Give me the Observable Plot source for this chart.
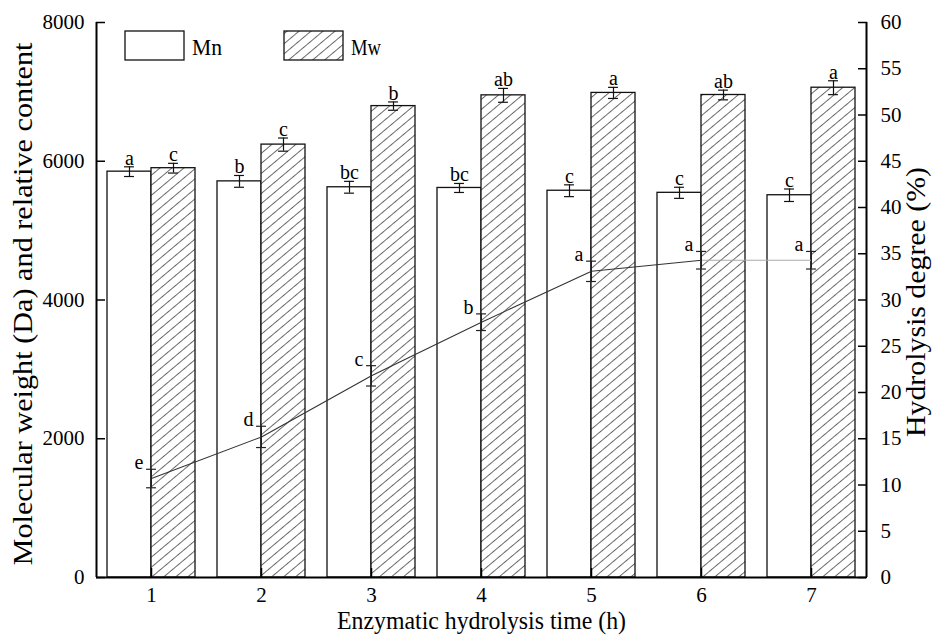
<!DOCTYPE html>
<html><head><meta charset="utf-8">
<script src="https://cdn.jsdelivr.net/npm/d3@7"></script>
<script src="https://cdn.jsdelivr.net/npm/@observablehq/plot@0.6"></script>
<style>
body{margin:0;background:#fff;}
#chart{position:relative;width:933px;height:641px;}
#chart svg{font-size:21px !important;}
#chart svg text{font-family:'Liberation Serif','Times New Roman',serif !important;}
</style></head>
<body><div id="chart"></div>
<script>
const times = [1, 2, 3, 4, 5, 6, 7];
const mn = [5850, 5710, 5625, 5615, 5575, 5545, 5510];
const mnErr = [70, 85, 85, 65, 85, 80, 90];
const mw = [5900, 6240, 6795, 6950, 6985, 6955, 7060];
const mwErr = [70, 95, 60, 100, 80, 70, 100];
const hd = [10.7, 15.2, 21.8, 27.6, 33.1, 34.3, 34.3];
const hdErr = [1.0, 1.15, 1.1, 0.9, 1.1, 0.95, 0.95];
const mnLetters = ["a", "b", "bc", "bc", "c", "c", "c"];
const mwLetters = ["c", "c", "b", "ab", "a", "ab", "a"];
const hdLetters = ["e", "d", "c", "b", "a", "a", "a"];
const leftTicks = [0, 2000, 4000, 6000, 8000];
const rightTicks = [0, 5, 10, 15, 20, 25, 30, 35, 40, 45, 50, 55, 60];
const seriesNames = ["Mn", "Mw"];
const xTitle = "Enzymatic hydrolysis time (h)";
const yTitle = "Molecular weight (Da) and relative content";
const y2Title = "Hydrolysis degree (%)";

const yMax = 8000, hdMax = 60;
const toY = v => v * yMax / hdMax;
const W = 0.4; // bar width in x units

const rows = times.map((t, i) => ({
  t, mn: mn[i], mnErr: mnErr[i], mw: mw[i], mwErr: mwErr[i],
  hd: hd[i], hdErr: hdErr[i], mnL: mnLetters[i], mwL: mwLetters[i], hdL: hdLetters[i]
}));
const capW = 0.045;
const font = "'Liberation Serif','Times New Roman',serif";

const plot = Plot.plot({
  width: 933, height: 641,
  marginLeft: 96, marginRight: 67, marginTop: 22, marginBottom: 64,
  style: "font-family:'Liberation Serif',serif;font-size:21px;color:#000;background:#fff;",
  x: {domain: [0.5, 7.5]},
  y: {domain: [0, yMax]},
  marks: [
    // bars
    Plot.rectY(rows, {x1: d => d.t - W, x2: d => d.t, y: "mn", fill: "white", stroke: "#111", strokeWidth: 1.3}),
    Plot.rectY(rows, {x1: d => d.t, x2: d => d.t + W, y: "mw", fill: "url(#hatch)", stroke: "#111", strokeWidth: 1.3}),
    // Mn error bars
    Plot.ruleX(rows, {x: d => d.t - W / 2, y1: d => d.mn - d.mnErr, y2: d => d.mn + d.mnErr, stroke: "#111", strokeWidth: 1.2}),
    Plot.ruleY(rows, {y: d => d.mn - d.mnErr, x1: d => d.t - W / 2 - capW, x2: d => d.t - W / 2 + capW, stroke: "#111", strokeWidth: 1.2}),
    Plot.ruleY(rows, {y: d => d.mn + d.mnErr, x1: d => d.t - W / 2 - capW, x2: d => d.t - W / 2 + capW, stroke: "#111", strokeWidth: 1.2}),
    // Mw error bars
    Plot.ruleX(rows, {x: d => d.t + W / 2, y1: d => d.mw - d.mwErr, y2: d => d.mw + d.mwErr, stroke: "#111", strokeWidth: 1.2}),
    Plot.ruleY(rows, {y: d => d.mw - d.mwErr, x1: d => d.t + W / 2 - capW, x2: d => d.t + W / 2 + capW, stroke: "#111", strokeWidth: 1.2}),
    Plot.ruleY(rows, {y: d => d.mw + d.mwErr, x1: d => d.t + W / 2 - capW, x2: d => d.t + W / 2 + capW, stroke: "#111", strokeWidth: 1.2}),
    // letters on bars
    Plot.text(rows, {x: d => d.t - W / 2, y: d => d.mn + d.mnErr, text: "mnL", lineAnchor: "bottom", dy: -2, fontSize: 20}),
    Plot.text(rows, {x: d => d.t + W / 2, y: d => d.mw + d.mwErr, text: "mwL", lineAnchor: "bottom", dy: -2, fontSize: 20}),
    // hydrolysis degree line
    Plot.line(rows.slice(0, 6), {x: "t", y: d => toY(d.hd), stroke: "#333", strokeWidth: 1.1}),
    Plot.line(rows.slice(5), {x: "t", y: d => toY(d.hd), stroke: "#aaa", strokeWidth: 1.1}),
    Plot.ruleX(rows, {x: "t", y1: d => toY(d.hd - d.hdErr), y2: d => toY(d.hd + d.hdErr), stroke: "#222", strokeWidth: 1}),
    Plot.ruleY(rows, {y: d => toY(d.hd - d.hdErr), x1: d => d.t - capW, x2: d => d.t + capW, stroke: "#222", strokeWidth: 1.2}),
    Plot.ruleY(rows, {y: d => toY(d.hd + d.hdErr), x1: d => d.t - capW, x2: d => d.t + capW, stroke: "#222", strokeWidth: 1.2}),
    Plot.text(rows, {x: "t", y: d => toY(d.hd + d.hdErr), text: "hdL", textAnchor: "end", lineAnchor: "bottom", dx: -8, dy: 0, fontSize: 20}),
    // axes lines
    Plot.ruleX([0.5], {y1: 0, y2: yMax, stroke: "#000", strokeWidth: 2}),
    Plot.ruleX([7.5], {y1: 0, y2: yMax, stroke: "#000", strokeWidth: 2}),
    Plot.ruleY([0], {stroke: "#000", strokeWidth: 2}),
    // left axis
    Plot.axisY({anchor: "left", ticks: leftTicks, tickSize: -9, tickPadding: 21, tickFormat: d => String(d), stroke: "#000", strokeWidth: 1.5, label: null}),
    // right axis (hydrolysis degree)
    Plot.axisY({anchor: "right", ticks: rightTicks.map(toY), tickSize: -9, tickPadding: 23, tickFormat: d => String(Math.round(d * hdMax / yMax)), stroke: "#000", strokeWidth: 1.5, label: null}),
    // x axis
    Plot.axisX({anchor: "bottom", ticks: times, tickSize: -9, tickPadding: 19, tickFormat: d => String(d), stroke: "#000", strokeWidth: 1.5, label: null}),
    // titles
    Plot.text([xTitle], {frameAnchor: "bottom", textAnchor: "middle", text: d => d, dy: 51, fontSize: 26}),
    Plot.text([yTitle], {frameAnchor: "left", textAnchor: "middle", text: d => d, rotate: -90, dx: -73, dy: 4, fontSize: 28}),
    Plot.text([y2Title], {frameAnchor: "right", textAnchor: "middle", text: d => d, rotate: -90, dx: 50, dy: 2, fontSize: 28})
  ]
});

const svg = d3.select(plot);
// fit titles to the reference's lengths
svg.selectAll("text").each(function () {
  const s = this.textContent;
  const len = s === yTitle ? 523 : s === y2Title ? 270 : s === xTitle ? 289 : null;
  if (len) d3.select(this).attr("textLength", len).attr("lengthAdjust", "spacingAndGlyphs");
});

// hatch pattern
const defs = svg.insert("defs", ":first-child");
const pat = defs.append("pattern").attr("id", "hatch").attr("patternUnits", "userSpaceOnUse")
  .attr("width", 7.7).attr("height", 10).attr("patternTransform", "rotate(50)");
pat.append("rect").attr("width", 7.7).attr("height", 10).attr("fill", "white");
pat.append("line").attr("x1", 0.5).attr("y1", 0).attr("x2", 0.5).attr("y2", 10)
  .attr("stroke", "#333").attr("stroke-width", 0.75);

// legend
const lg = svg.append("g").attr("font-family", font).attr("text-anchor", "start");
const legendItems = [
  {name: seriesNames[0], fill: "white", x: 125},
  {name: seriesNames[1], fill: "url(#hatch)", x: 284}
];
legendItems.forEach(it => {
  lg.append("rect").attr("x", it.x).attr("y", 31).attr("width", 59).attr("height", 29)
    .attr("fill", it.fill).attr("stroke", "#111").attr("stroke-width", 1.3);
  lg.append("text").attr("x", it.x + 67).attr("y", 55).attr("text-anchor", "start")
    .style("font-size", "23px").attr("textLength", 30).attr("lengthAdjust", "spacingAndGlyphs").text(it.name);
});

document.getElementById("chart").appendChild(plot);
</script>
</body></html>
